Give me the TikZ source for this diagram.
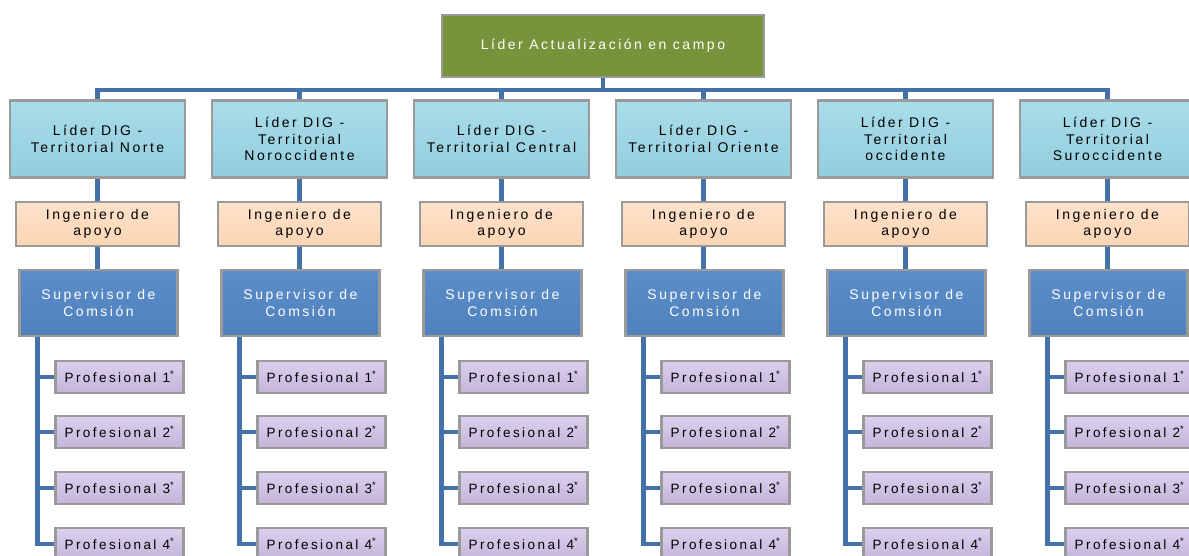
\documentclass[tikz,border=0pt]{standalone}
\usepackage{fontspec}
\setmainfont{Liberation Sans}[LetterSpace=18]
\usetikzlibrary{calc,backgrounds}
\definecolor{olive}{HTML}{77933C}
\definecolor{lblue}{HTML}{93CDDD}
\definecolor{lbluetop}{HTML}{A9DDEA}
\definecolor{peach}{HTML}{FCD5B4}
\definecolor{peachtop}{HTML}{FDE2CB}
\definecolor{sblue}{HTML}{4F81BD}
\definecolor{sbluetop}{HTML}{5C8DC8}
\definecolor{lav}{HTML}{C3B4D9}
\definecolor{lavtop}{HTML}{DCD0EE}
\definecolor{conn}{HTML}{4472A8}
\definecolor{bevel}{HTML}{9A9A9A}
\tikzset{
  box/.style={draw=bevel, line width=2.4pt, inner sep=0pt, align=center,
     font=\fontsize{14}{16.5}\selectfont},
  topbox/.style={box, fill=olive, text=white, minimum width=322, minimum height=62},
  lvla/.style={box, top color=lbluetop, bottom color=lblue, minimum width=175, minimum height=77},
  lvlb/.style={box, top color=peachtop, bottom color=peach, minimum width=163, minimum height=44},
  lvlc/.style={box, top color=sbluetop, bottom color=sblue, text=white, minimum width=158, minimum height=66},
  prof/.style={box, top color=lavtop, bottom color=lav, minimum width=128, minimum height=32,
     font=\fontsize{13.5}{15}\selectfont},
  link/.style={draw=conn, line width=4.3pt}
}
\begin{document}
\begin{tikzpicture}[x=1pt,y=-1pt]
\useasboundingbox (0,0) rectangle (1189,556);
\clip (0,0) rectangle (1189,556);
\node[topbox] (top) at (603,46) {Líder Actualización en campo};
\coordinate (bus) at (603,90);
\foreach \i/\t in {1/{Líder DIG -\\Territorial Norte},
                   2/{Líder DIG -\\Territorial\\Noroccidente},
                   3/{Líder DIG -\\Territorial Central},
                   4/{Líder DIG -\\Territorial Oriente},
                   5/{Líder DIG -\\Territorial\\occidente},
                   6/{Líder DIG -\\Territorial\\Suroccidente}}{
  \pgfmathsetmacro{\cx}{97.5+202*(\i-1)}
  \node[lvla] (L\i) at (\cx,139) {\t};
  \node[lvlb] (I\i) at (\cx,224) {Ingeniero de\\apoyo};
  \node[lvlc] (S\i) at (\cx+1,303) {Supervisor de\\Comsión};
  \foreach \j/\y in {1/377,2/432,3/488,4/544}{
    \node[prof] (P\i-\j) at (\cx+22,\y) {Profesional \j\textsuperscript{*}};
  }
  \coordinate (sp\i) at ($(S\i.south)+(-61,0)$);
}
\begin{scope}[on background layer]
  \draw[link] (top.south) -- (bus);
  \draw[link] (L1.north) |- (bus) -| (L6.north);
  \foreach \i in {1,...,6}{
    \draw[link] (L\i.north) -- (L\i.north |- bus);
    \draw[link] (L\i.south) -- (I\i.north);
    \draw[link] (I\i.south) -- (I\i.south |- S\i.north);
    \draw[link] (sp\i) |- (P\i-4.west);
    \foreach \j in {1,2,3}{
      \draw[link] (sp\i |- P\i-\j.west) -- (P\i-\j.west);
    }
  }
\end{scope}
\end{tikzpicture}
\end{document}
